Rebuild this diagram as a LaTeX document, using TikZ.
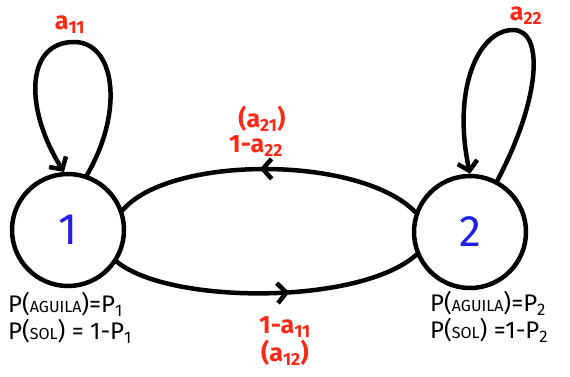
\documentclass[tikz,border=0pt]{standalone}
\usepackage{fontspec}
\setmainfont{Fira Sans}
\usetikzlibrary{arrows.meta,decorations.markings}
\definecolor{lab}{RGB}{250,40,20}
\definecolor{num}{RGB}{30,30,230}
\tikzset{
  state/.style={circle,draw=black,line width=4.5pt,minimum size=112pt,inner sep=0pt,font=\fontsize{44}{44}\selectfont\color{num}},
  edge/.style={line width=4.5pt,line cap=round},
  tipend/.style={-{Straight Barb[length=9pt,width=20pt,line width=4.5pt]}},
  midarrow/.style={postaction={decorate},decoration={markings,mark=at position #1 with {\arrow{Straight Barb[length=9pt,width=20pt,line width=4.5pt]}}}},
  midarrowrev/.style={postaction={decorate},decoration={markings,mark=at position #1 with {\arrowreversed{Straight Barb[length=9pt,width=20pt,line width=4.5pt]}}}},
  lbl/.style={text=lab,font=\fontsize{25}{25}\bfseries\selectfont,inner sep=0pt},
  info/.style={font=\fontsize{24}{26}\selectfont,inner sep=0pt,anchor=west},
}
\newcommand{\sm}[1]{{\fontsize{16}{16}\selectfont #1}}
\newcommand{\sbs}[1]{\textsubscript{#1}}
\begin{document}
\begin{tikzpicture}[x=1pt,y=-1pt]
\useasboundingbox (0,0) rectangle (570,376);
\node[state] (n1) at (68,230) {1};
\node[state] (n2) at (470,232) {2};
% self loops
\draw[edge,tipend] (n1.71) .. controls (125,110) and (115,40) .. (72,42) .. controls (25,44) and (25,110) .. (n1.94);
\draw[edge,tipend] (n2.62) .. controls (540,100) and (545,30) .. (513,30) .. controls (478,30) and (452,90) .. (n2.90);
% transitions
\draw[edge,midarrowrev=0.47] (n1.20) .. controls (170,155) and (360,155) .. (n2.160);
\draw[edge,midarrow=0.57] (n1.-33) .. controls (170,305) and (360,305) .. (n2.203);
% labels
\node[lbl] (l11) at (70,25) {a\sbs{11}};
\node[lbl] (l22) at (526,16) {a\sbs{22}};
\node[lbl] (l21) at (262,119) {(a\sbs{21})};
\node[lbl] (l122) at (256,146) {1-a\sbs{22}};
\node[lbl] (l111) at (285,327) {1-a\sbs{11}};
\node[lbl] (l12) at (285,353) {(a\sbs{12})};
% probabilities
\node[info] (p1a) at (8,304) {P(\sm{AGUILA})=P\sbs{1}};
\node[info] (p1b) at (8,331) {P(\sm{SOL}) = 1-P\sbs{1}};
\node[info] (p2a) at (430,303) {P(\sm{AGUILA})=P\sbs{2}};
\node[info] (p2b) at (430,330) {P(\sm{SOL}) =1-P\sbs{2}};
\end{tikzpicture}
\end{document}
